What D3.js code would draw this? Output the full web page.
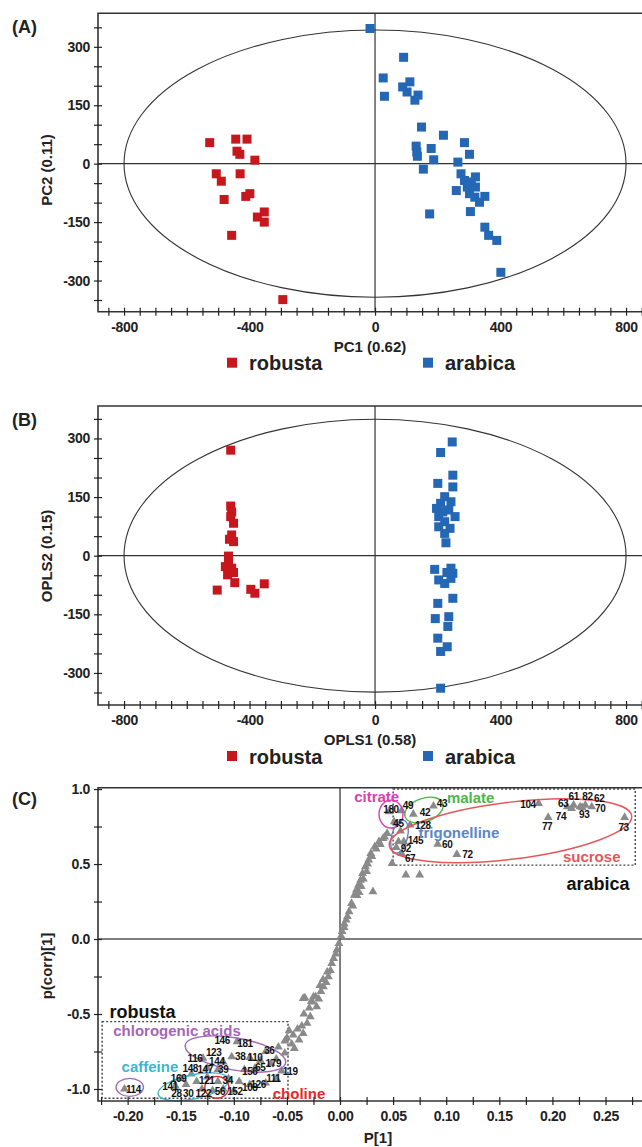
<!DOCTYPE html>
<html>
<head>
<meta charset="utf-8">
<script src="https://cdn.jsdelivr.net/npm/d3@7"></script>
<style>
  body { margin: 0; background: #fff; }
  svg { display: block; font-family: "Liberation Sans", Arial, sans-serif; }
</style>
</head>
<body>
<script>
// ---- data ----
const pcaRobusta = [[-527,54],[-444,63],[-408,63],[-440,32],[-431,24],[-383,9],[-506,-26],[-490,-45],[-430,-26],
  [-481,-92],[-412,-84],[-399,-77],[-375,-137],[-353,-124],[-353,-150],[-457,-184],[-294,-349]];
const pcaArabica = [[-16,347],[91,273],[26,220],[30,173],[111,210],[88,197],[102,184],[137,176],[127,163],[148,94],
  [218,73],[131,45],[133,30],[135,19],[179,39],[187,10],[154,-14],[285,54],[301,24],[264,4],[274,-26],[285,-43],
  [307,-47],[320,-34],[320,-60],[259,-69],[301,-77],[318,-86],[333,-99],[350,-84],[304,-123],[174,-129],[350,-163],
  [362,-184],[388,-197],[401,-279],[294,-60]];
const oplsRobusta = [[-460,270],[-460,127],[-457,112],[-460,100],[-451,83],[-457,53],[-464,42],[-451,36],[-467,-1],
  [-467,-11],[-477,-28],[-457,-32],[-451,-43],[-470,-49],[-447,-69],[-503,-88],[-396,-86],[-383,-96],[-353,-72]];
const oplsArabica = [[246,291],[209,264],[248,206],[200,185],[248,176],[222,151],[209,134],[242,138],[196,121],
  [216,112],[235,117],[255,100],[203,100],[222,87],[203,74],[239,70],[222,57],[226,33],[190,-35],[242,-32],[248,-45],
  [203,-62],[222,-71],[242,-58],[229,-43],[248,-109],[200,-122],[235,-156],[192,-161],[232,-181],[200,-211],
  [230,-233],[209,-245],[209,-339]];

const scoreTickLabels = [-800, -400, 0, 400, 800];
const scoreYTickLabels = [-300, -150, 0, 150, 300];
const classes = ["robusta", "arabica"];

// S-plot loadings (P[1], p(corr)[1])
const loadingsCurve = [[-0.048,-0.611],[-0.043,-0.729],[-0.0386,-0.673],[-0.0347,-0.629],[-0.0455,-0.70],[-0.031,-0.562],
  [-0.028,-0.518],[-0.022,-0.451],[-0.033,-0.393],[-0.025,-0.385],[-0.0157,-0.318],[-0.011,-0.251],[-0.0078,-0.162],
  [-0.003,-0.073],[-0.02,-0.40],[-0.018,-0.35],[-0.013,-0.29],[-0.009,-0.21],[-0.006,-0.13],[-0.004,-0.10],
  [-0.001,-0.03],[0.001,0.02],[0.002,0.05],[0.0039,0.078],[0.0058,0.127],[0.0085,0.182],[0.0108,0.238],[0.0135,0.293],
  [0.0154,0.327],[0.0174,0.36],[0.0193,0.393],[0.0212,0.438],[0.0239,0.482],[0.027,0.527],[0.029,0.571],[0.031,0.316],
  [0.0328,0.616],[0.0367,0.649],[0.0405,0.671],[0.0444,0.704],[0.012,0.22],[0.016,0.29],[0.018,0.31],[0.02,0.35],
  [0.022,0.40],[0.025,0.45],[0.026,0.50],[0.03,0.55],[0.034,0.60],[0.038,0.63],[0.042,0.68],[0.007,0.15],[0.004,0.10],
  [-0.012,-0.22],[-0.016,-0.27],[-0.019,-0.31],[-0.026,-0.42],[-0.029,-0.46],[-0.034,-0.50],[-0.036,-0.58],
  [-0.04,-0.60],[-0.044,-0.64],[-0.050,-0.66],[-0.052,-0.68],[-0.0347,-0.396],[-0.027,-0.416],[-0.023,-0.384]];
const loadingsArabica = [[0.187,0.904],[0.214,0.882],[0.220,0.893],[0.226,0.882],[0.231,0.893],[0.237,0.882],
  [0.218,0.871],[0.228,0.878],[0.196,0.811],[0.268,0.811],[0.088,0.887],[0.058,0.856],[0.069,0.833],[0.051,0.782],
  [0.066,0.76],[0.060,0.649],[0.092,0.633],[0.053,0.611],[0.058,0.57],[0.110,0.564],[0.046,0.849],[0.049,0.504],
  [0.062,0.427],[0.075,0.427],[0.055,0.65],[0.057,0.72]];
const loadingsRobusta = [[-0.203,-1.0],[-0.097,-0.684],[-0.129,-0.795],[-0.102,-0.785],[-0.085,-0.79],[-0.07,-0.75],
  [-0.065,-0.83],[-0.055,-0.88],[-0.06,-0.93],[-0.07,-0.96],[-0.085,-0.97],[-0.095,-0.95],[-0.105,-0.93],
  [-0.115,-0.95],[-0.125,-0.92],[-0.135,-0.95],[-0.145,-0.97],[-0.155,-0.98],[-0.13,-1.0],[-0.12,-1.01],[-0.11,-1.0],
  [-0.1,-1.01],[-0.115,-0.87],[-0.125,-0.86],[-0.09,-0.87],[-0.08,-0.86],[-0.075,-0.81],[-0.11,-0.82],[-0.14,-0.90],
  [-0.15,-0.93],[-0.06,-0.80],[-0.058,-0.72],[-0.052,-0.76]];

const varIds = ["180","49","43","42","45","128","104","61","82","62","63","70","93","74","77","73","145","60","92","67","72",
  "146","181","36","123","116","144","38","110","179","148","147","39","156","65","119","169","121","34","111","126",
  "108","141","114","28","30","122","56","152"];
const varX = [0.048,0.064,0.096,0.080,0.055,0.078,0.177,0.220,0.233,0.244,0.210,0.245,0.230,0.208,0.195,0.267,0.071,
  0.101,0.062,0.066,0.120,
  -0.111,-0.0895,-0.0666,-0.119,-0.1365,-0.116,-0.094,-0.080,-0.0628,-0.141,-0.127,-0.110,-0.085,-0.075,-0.047,-0.152,
  -0.1255,-0.1057,-0.0628,-0.077,-0.085,-0.160,-0.1946,-0.154,-0.143,-0.1287,-0.113,-0.099];
const varY = [0.864,0.893,0.904,0.842,0.767,0.755,0.898,0.953,0.953,0.938,0.904,0.867,0.833,0.820,0.753,0.744,0.656,
  0.627,0.604,0.538,0.564,
  -0.675,-0.696,-0.74,-0.758,-0.795,-0.818,-0.785,-0.791,-0.829,-0.862,-0.873,-0.869,-0.884,-0.855,-0.884,-0.929,
  -0.94,-0.944,-0.929,-0.973,-0.989,-0.98,-1.0,-1.029,-1.029,-1.029,-1.018,-1.018];

const compounds = ["citrate","malate","trigonelline","sucrose","chlorogenic acids","caffeine","choline"];
const compoundLabelX = [0.0345, 0.123, 0.112, 0.237, -0.1535, -0.179, -0.0386];
const compoundLabelY = [0.95, 0.944, 0.708, 0.549, -0.612, -0.851, -1.033];
// ellipse: centre x, centre y, half-width (P units), half-height (p(corr) units), tilt (deg)
const compoundEllipses = [
  ["citrate", 0.048, 0.833, 0.0113, 0.093, 0],
  ["malate", 0.079, 0.86, 0.0188, 0.078, -20],
  ["trigonelline", 0.056, 0.682, 0.0075, 0.113, 15],
  ["sucrose", 0.1605, 0.722, 0.115, 0.19, -7],
  ["chlorogenic acids", -0.0985, -0.767, 0.048, 0.107, 10],
  ["chlorogenic acids", -0.198, -0.989, 0.0129, 0.06, 0],
  ["caffeine", -0.138, -0.985, 0.034, 0.08, -12],
  ["choline", -0.116, -0.989, 0.0113, 0.073, 0]
];
// class boxes: [name, x0, x1, y0, y1, label x, label y]
const classBoxes = [
  ["arabica", 0.05, 0.278, 0.493, 1.0, 0.243, 0.37],
  ["robusta", -0.224, -0.049, -1.062, -0.551, -0.186, -0.484]
];

// ---- styling ----
const classColor = { robusta: "#c8161d", arabica: "#2467b4" };
const compoundColor = {
  "citrate": "#dc3fb0", "malate": "#4fb64a", "trigonelline": "#5a87c8", "sucrose": "#e4575a",
  "chlorogenic acids": "#a466b6", "caffeine": "#3fb5cf", "choline": "#e32a2a"
};
const INK = "#222";
const FONT = "'Liberation Sans', Arial, sans-serif";

const svg = d3.select("body").append("svg")
  .attr("width", 642)
  .attr("height", 1147);

function styleAxis(g) {
  g.attr("font-family", FONT).attr("font-size", 14).attr("font-weight", "bold");
  g.select(".domain").remove();
  g.selectAll(".tick line").attr("stroke", INK).attr("stroke-width", 1.2);
  g.selectAll(".tick text").attr("fill", INK).attr("letter-spacing", "-0.3px");
}

function frame(x0, y0, x1, y1) {
  svg.append("path")
    .attr("d", `M${x1},${y0}H${x0}V${y1}H${x1}`)
    .attr("fill", "none")
    .attr("stroke", "#333")
    .attr("stroke-width", 1.6);
}

function scorePanel(opt) {
  const x = d3.scaleLinear().domain([-883, 870]).range([98, 648]);
  const y = d3.scaleLinear().domain(opt.yDomain).range([opt.bottom, opt.top]);

  // cross hairs and Hotelling ellipse
  svg.append("line").attr("x1", x(0)).attr("x2", x(0)).attr("y1", opt.top).attr("y2", opt.bottom)
    .attr("stroke", "#333").attr("stroke-width", 1.2);
  svg.append("line").attr("x1", 98).attr("x2", 648).attr("y1", y(0)).attr("y2", y(0))
    .attr("stroke", "#333").attr("stroke-width", 1.2);
  svg.append("ellipse")
    .attr("cx", x(0)).attr("cy", y(0))
    .attr("rx", x(800) - x(0)).attr("ry", y(0) - y(opt.ellipseR))
    .attr("fill", "none").attr("stroke", "#333").attr("stroke-width", 1.1);

  const s = 9;
  [["robusta", opt.robusta], ["arabica", opt.arabica]].forEach(([cls, pts]) => {
    svg.append("g").selectAll("rect")
      .data(pts)
      .enter()
      .append("rect")
        .attr("x", d => x(d[0]) - s / 2)
        .attr("y", d => y(d[1]) - s / 2)
        .attr("width", s).attr("height", s)
        .attr("fill", classColor[cls]);
  });

  frame(98, opt.top, 650, opt.bottom);

  const gx = svg.append("g")
    .attr("transform", `translate(0,${opt.bottom})`)
    .call(d3.axisBottom(x).tickValues(d3.range(-850, 851, 50))
      .tickFormat(d => scoreTickLabels.includes(d) ? String(d) : "")
      .tickSizeInner(4).tickSizeOuter(0).tickPadding(6));
  styleAxis(gx);
  gx.selectAll(".tick line").attr("y1", -4);

  const gy = svg.append("g")
    .attr("transform", "translate(98,0)")
    .call(d3.axisLeft(y).tickValues(d3.range(-350, 351, 50))
      .tickFormat(d => scoreYTickLabels.includes(d) ? String(d) : "")
      .tickSizeInner(4).tickSizeOuter(0).tickPadding(4));
  styleAxis(gy);
  gy.selectAll(".tick line").attr("x1", 4);

  svg.append("text").attr("x", 12).attr("y", opt.top + 20)
    .attr("font-size", 18).attr("font-weight", "bold").attr("fill", INK).text(opt.panel);
  svg.append("text").attr("x", 370).attr("y", opt.bottom + 40)
    .attr("text-anchor", "middle").attr("font-size", 15).attr("font-weight", "bold").attr("fill", INK)
    .text(opt.xTitle);
  svg.append("text")
    .attr("transform", `translate(52,${opt.yTitleY}) rotate(-90)`)
    .attr("text-anchor", "middle").attr("font-size", 15).attr("font-weight", "bold").attr("fill", INK)
    .text(opt.yTitle);

  // legend
  const legX = [227, 423];
  const leg = svg.append("g").selectAll("g")
    .data(classes)
    .enter()
    .append("g")
    .attr("transform", (d, i) => `translate(${legX[i]},${opt.bottom + 51})`);
  leg.append("rect").attr("x", 0).attr("y", -5).attr("width", 10).attr("height", 10)
    .attr("fill", d => classColor[d]);
  leg.append("text").attr("x", 22).attr("y", 7.5)
    .attr("font-size", 20).attr("font-weight", "bold").attr("fill", INK)
    .text(d => d);
}

scorePanel({
  panel: "(A)", top: 13.3, bottom: 311.7, yDomain: [-380, 386], ellipseR: 343,
  robusta: pcaRobusta, arabica: pcaArabica,
  xTitle: "PC1 (0.62)", yTitle: "PC2 (0.11)", yTitleY: 170
});
scorePanel({
  panel: "(B)", top: 406, bottom: 705, yDomain: [-382, 383], ellipseR: 349,
  robusta: oplsRobusta, arabica: oplsArabica,
  xTitle: "OPLS1 (0.58)", yTitle: "OPLS2 (0.15)", yTitleY: 556
});

// ---- (C) S-plot ----
(function () {
  const top = 787.7, bottom = 1101;
  const x = d3.scaleLinear().domain([-0.2279, 0.2900]).range([98, 648]);
  const y = d3.scaleLinear().domain([-1.08, 1.009]).range([bottom, top]);

  svg.append("line").attr("x1", x(0)).attr("x2", x(0)).attr("y1", top).attr("y2", bottom)
    .attr("stroke", "#555").attr("stroke-width", 1.5);
  svg.append("line").attr("x1", 98).attr("x2", 648).attr("y1", y(0)).attr("y2", y(0))
    .attr("stroke", "#555").attr("stroke-width", 1.5);

  // dotted class boxes
  classBoxes.forEach(b => {
    svg.append("rect")
      .attr("x", x(b[1])).attr("y", y(b[4]))
      .attr("width", x(b[2]) - x(b[1])).attr("height", y(b[3]) - y(b[4]))
      .attr("fill", "none").attr("stroke", "#444").attr("stroke-width", 1.4)
      .attr("stroke-dasharray", "2,2");
    svg.append("text")
      .attr("x", x(b[5])).attr("y", y(b[6])).attr("dy", "0.35em")
      .attr("text-anchor", "middle").attr("font-size", 18).attr("font-weight", "bold").attr("fill", "#111")
      .text(b[0]);
  });

  const tri = d3.symbol().type(d3.symbolTriangle).size(34);
  svg.append("g").selectAll("path")
    .data(loadingsCurve.concat(loadingsArabica, loadingsRobusta))
    .enter()
    .append("path")
      .attr("d", tri)
      .attr("transform", d => `translate(${x(d[0])},${y(d[1])})`)
      .attr("fill", "#8a8a8a");

  compoundEllipses.forEach(e => {
    svg.append("ellipse")
      .attr("transform", `translate(${x(e[1])},${y(e[2])}) rotate(${e[5]})`)
      .attr("rx", x(e[3]) - x(0)).attr("ry", y(0) - y(e[4]))
      .attr("fill", "none").attr("stroke", compoundColor[e[0]]).attr("stroke-width", 1.4);
  });

  svg.append("g").selectAll("text")
    .data(varIds)
    .enter()
    .append("text")
      .attr("x", (d, i) => x(varX[i]))
      .attr("y", (d, i) => y(varY[i]))
      .attr("dy", "0.35em")
      .attr("text-anchor", "middle")
      .attr("font-size", 10).attr("font-weight", "bold").attr("letter-spacing", "-0.4px")
      .attr("fill", "#111")
      .text(d => d);

  svg.append("g").selectAll("text")
    .data(compounds)
    .enter()
    .append("text")
      .attr("x", (d, i) => x(compoundLabelX[i]))
      .attr("y", (d, i) => y(compoundLabelY[i]))
      .attr("dy", "0.35em")
      .attr("text-anchor", "middle")
      .attr("font-size", 15).attr("font-weight", "bold")
      .attr("fill", d => compoundColor[d])
      .text(d => d);

  frame(98, top, 650, bottom);

  const xLabels = [-0.2, -0.15, -0.1, -0.05, 0, 0.05, 0.1, 0.15, 0.2, 0.25];
  const gx = svg.append("g")
    .attr("transform", `translate(0,${bottom})`)
    .call(d3.axisBottom(x).tickValues(d3.range(-9, 12).map(k => k * 0.025))
      .tickFormat(d => xLabels.some(v => Math.abs(v - d) < 1e-9) ? d.toFixed(2) : "")
      .tickSizeInner(4).tickSizeOuter(0).tickPadding(6));
  styleAxis(gx);
  gx.selectAll(".tick line").attr("y1", -4);

  const yLabels = [-1, -0.5, 0, 0.5, 1];
  const gy = svg.append("g")
    .attr("transform", "translate(98,0)")
    .call(d3.axisLeft(y).tickValues(d3.range(-4, 5).map(k => k * 0.25))
      .tickFormat(d => yLabels.some(v => Math.abs(v - d) < 1e-9) ? d.toFixed(1) : "")
      .tickSizeInner(4).tickSizeOuter(0).tickPadding(4));
  styleAxis(gy);
  gy.selectAll(".tick line").attr("x1", 4);

  svg.append("text").attr("x", 12).attr("y", 805)
    .attr("font-size", 18).attr("font-weight", "bold").attr("fill", INK).text("(C)");
  svg.append("text").attr("x", 378).attr("y", 1143)
    .attr("text-anchor", "middle").attr("font-size", 15).attr("font-weight", "bold").attr("fill", INK)
    .text("P[1]");
  svg.append("text")
    .attr("transform", "translate(52,966) rotate(-90)")
    .attr("text-anchor", "middle").attr("font-size", 15).attr("font-weight", "bold").attr("fill", INK)
    .text("p(corr)[1]");
})();
</script>
</body>
</html>
